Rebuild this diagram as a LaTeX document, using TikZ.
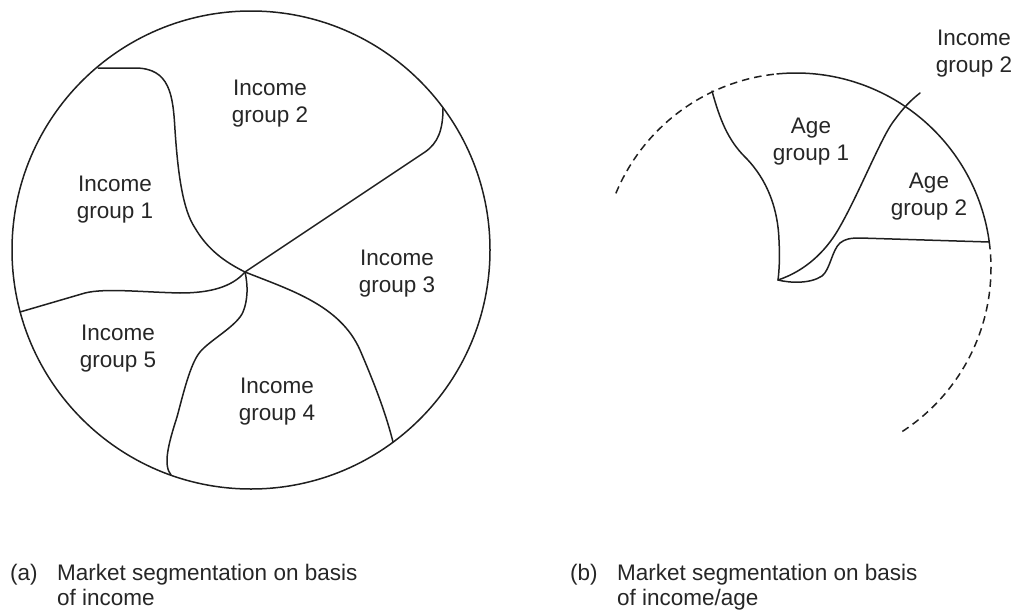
\documentclass[tikz,border=0pt]{standalone}
\usepackage{fontspec}
\setmainfont{Liberation Sans}
\begin{document}
\begin{tikzpicture}[x=1pt,y=-1pt,
  seg/.style={line width=1.5pt, draw=black!88, line join=round, line cap=round},
  rim/.style={line width=1.5pt, draw=black!88, dash pattern=on 7.5pt off 5pt},
  lbl/.style={align=center, text=black!85, font=\fontsize{22.5}{27}\selectfont, inner sep=0pt},
  capt/.style={anchor=base west, text=black!85, font=\fontsize{22.5}{27}\selectfont, inner sep=0pt}]
\useasboundingbox (0,0) rectangle (1018,613);

% ---------- (a) segmentation by income ----------
\coordinate (O) at (245,272);
\draw[seg] (251,250) circle[radius=239pt];
% boundary between groups 1 and 2
\draw[seg] (98,68) -- (135,68) .. controls (170,68) and (173,95) .. (175,130)
  .. controls (178,175) and (183,210) .. (195,228)
  .. controls (208,250) and (225,262) .. (O);
% boundary between groups 2 and 3
\draw[seg] (O) -- (425,152) .. controls (438,143) and (443,130) .. (443,108);
% boundary between groups 3 and 4
\draw[seg] (O) .. controls (290,290) and (340,305) .. (360,350)
  .. controls (372,378) and (385,410) .. (393,442);
% boundary between groups 4 and 5
\draw[seg] (O) .. controls (248,285) and (248,300) .. (243,312)
  .. controls (237,326) and (210,340) .. (200,352)
  .. controls (190,364) and (183,395) .. (177,417)
  .. controls (168,445) and (163,465) .. (171,475);
% boundary between groups 5 and 1
\draw[seg] (O) .. controls (232,287) and (210,293) .. (180,293)
  .. controls (140,292) and (105,288) .. (85,293) -- (20,312);

\node[lbl] (ig2) at (270,104) {Income\\group 2};
\node[lbl] (ig1) at (115,200) {Income\\group 1};
\node[lbl] (ig3) at (397,274) {Income\\group 3};
\node[lbl] (ig5) at (118,349) {Income\\group 5};
\node[lbl] (ig4) at (277,402) {Income\\group 4};

% ---------- (b) segmentation by income and age ----------
\coordinate (T) at (778,280);
\coordinate (W) at (712,91);
\coordinate (X) at (907,106);
\coordinate (R) at (989,242);
\draw[rim] plot[domain=-157.5:-95.6, samples=50] ({796+195*cos(\x)},{268+195*sin(\x)});
\draw[seg] plot[domain=-95.6:-7.7, samples=80] ({796+195*cos(\x)},{268+195*sin(\x)});
\draw[rim] plot[domain=-7.7:57.3, samples=60] ({796+195*cos(\x)},{268+195*sin(\x)});
% outer edge of the income group 2 sector
\draw[seg] (W) .. controls (720,120) and (728,140) .. (745,157)
  .. controls (768,180) and (778,210) .. (779,240)
  .. controls (780,260) and (779,272) .. (T);
% split between the two age groups, running on as the income group 2 pointer
\draw[seg] (T) .. controls (805,271) and (825,252) .. (838,230)
  .. controls (858,196) and (880,140) .. (893,122)
  .. controls (899,114) and (906,104) .. (920,93);
% lower edge of age group 2
\draw[seg] (T) .. controls (790,283) and (810,284) .. (822,276)
  .. controls (830,270) and (832,250) .. (840,243)
  .. controls (845,239) and (850,238) .. (860,238) -- (R);

\node[lbl] (ag1) at (811,142) {Age\\group 1};
\node[lbl] (ag2) at (929,197) {Age\\group 2};
\node[lbl] (inc2) at (974,54) {Income\\group 2};

% ---------- captions ----------
\node[capt] (ta) at (10,580) {(a)};
\node[capt] (ta1) at (57,580) {Market segmentation on basis};
\node[capt] (ta2) at (57,605) {of income};
\node[capt] (tb) at (570,580) {(b)};
\node[capt] (tb1) at (617,580) {Market segmentation on basis};
\node[capt] (tb2) at (617,605) {of income/age};
\end{tikzpicture}
\end{document}
